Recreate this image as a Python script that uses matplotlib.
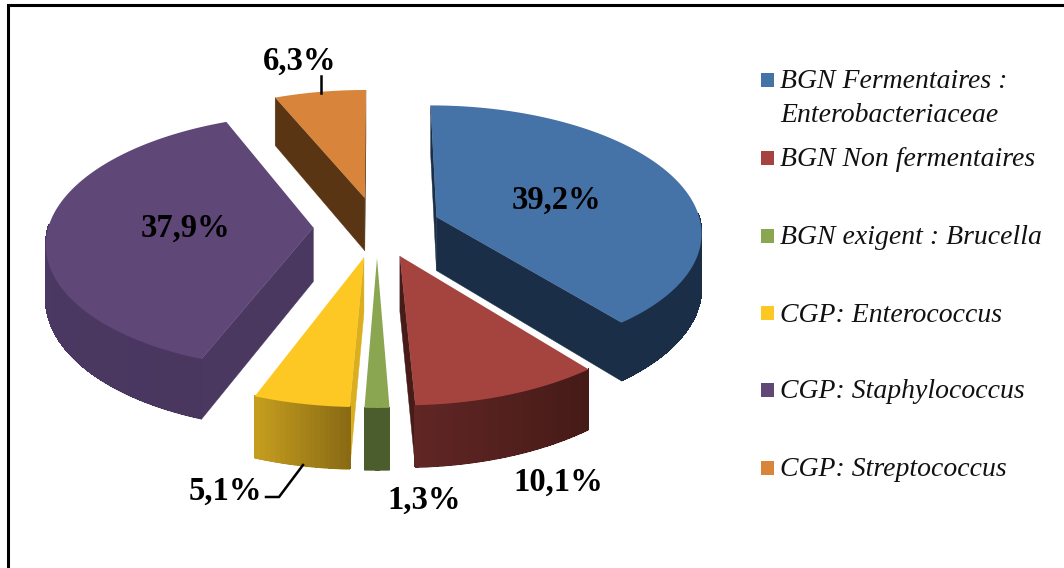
# -*- coding: utf-8 -*-
import numpy as np
import matplotlib.pyplot as plt
from matplotlib.colors import to_rgb

plt.rcParams["font.family"] = ["Liberation Serif", "DejaVu Serif"]

# values
categories = ["BGN Fermentaires :\nEnterobacteriaceae", "BGN Non fermentaires",
              "BGN exigent : Brucella", "CGP: Enterococcus",
              "CGP: Staphylococcus", "CGP: Streptococcus"]
values = [39.2, 10.1, 1.3, 5.1, 37.9, 6.3]
value_labels = ["39,2%", "10,1%", "1,3%", "5,1%", "37,9%", "6,3%"]

# colours: top, wall start, wall end, radial face
top_col = ["#4572A7", "#A5443F", "#8BA650", "#FDC823", "#5F4778", "#D9843B"]
wall_a = ["#1B2E47", "#451A17", "#4B5D2C", "#8A6B14", "#4A3760", "#5A3514"]
wall_b = ["#1B2E47", "#602624", "#4B5D2C", "#C8A01F", "#4E3B66", "#5A3514"]
face_col = ["#1B2E47", "#471B18", "#4B5D2C", "#DBAE1F", "#4A3860", "#5A3514"]

# projection of the tilted pie, in image pixels
CX, CY = 377, 227
RX, RY = 265, 126
K = 0.11
EXPLODE = 0.24
DEPTH = 54


def project(x, y, z=0.0):
    p = 1 / (1 + K * y)
    return CX + x * RX * p, CY - y * RY * p + z * DEPTH * p


def mix(c1, c2, t):
    return tuple(a + (b - a) * t for a, b in zip(to_rgb(c1), to_rgb(c2)))


def i_z(i):
    return [2, 3, 4, 4, 3, 1][i]


def draw_wedge(ax, t1, t2, i):
    """t1 > t2, degrees, going clockwise"""
    mid = np.radians((t1 + t2) / 2)
    ox, oy = EXPLODE * np.cos(mid), EXPLODE * np.sin(mid)
    th = np.radians(np.linspace(t1, t2, max(int(t1 - t2) + 2, 8)))
    xs, ys = ox + np.cos(th), oy + np.sin(th)
    z = i_z(i)

    # radial faces, only the ones turned to the viewer
    for k, sign in ((0, 1), (-1, -1)):
        x0, y0 = project(ox, oy)
        x1, y1 = project(xs[k], ys[k])
        x2, y2 = project(xs[k], ys[k], 1)
        x3, y3 = project(ox, oy, 1)
        area = (x1 - x0) * (y3 - y0) - (x3 - x0) * (y1 - y0)
        if area * sign < 0:
            ax.fill([x0, x1, x2, x3], [y0, y1, y2, y3], color=face_col[i], lw=0.3, zorder=z)

    # outer wall: smooth base shape, then the shading bands without antialiasing
    front = np.sin((th[:-1] + th[1:]) / 2) <= 0.02
    if front.any():
        idx = np.where(front)[0]
        ids = np.r_[idx, idx[-1] + 1]
        xt, yt = project(xs[ids], ys[ids])
        xb, yb = project(xs[ids], ys[ids], 1)
        ax.fill(np.r_[xt, xb[::-1]], np.r_[yt, yb[::-1]],
                color=mix(wall_a[i], wall_b[i], 0.5), lw=0.3, zorder=z)
        for j in idx:
            xa, ya = project(xs[j], ys[j])
            xc, yc = project(xs[j + 1], ys[j + 1])
            xe, ye = project(xs[j + 1], ys[j + 1], 0.985)
            xd, yd = project(xs[j], ys[j], 0.985)
            col = mix(wall_a[i], wall_b[i], j / (len(th) - 1))
            ax.fill([xa, xc, xe, xd], [ya, yc, ye, yd], color=col, lw=0.6,
                    antialiased=False, zorder=z)

    # top
    tx, ty = project(np.r_[ox, xs], np.r_[oy, ys])
    ax.fill(tx, ty, color=top_col[i], lw=0, zorder=z + 0.5)


fig = plt.figure(figsize=(10.64, 5.68), dpi=100)
ax = fig.add_axes([0, 0, 1, 1])
ax.set_xlim(0, 1064)
ax.set_ylim(568, 0)
ax.axis("off")

# frame: only top and left fall inside the picture
ax.plot([8, 8, 1064], [568, 5, 5], color="k", lw=2.2, solid_joinstyle="miter", zorder=0)

start = 90.0
for i, v in enumerate(values):
    sweep = v / sum(values) * 360
    draw_wedge(ax, start, start - sweep, i)
    start -= sweep

# value labels
label_x = [556, 558, 424, 225, 185, 300]
label_y = [200, 482, 500, 491, 228, 61]
for lab, x, y in zip(value_labels, label_x, label_y):
    ax.text(x, y, lab, ha="center", va="center", fontsize=23.5, fontweight="bold", zorder=10)

# leader lines
ax.plot([321, 321], [76, 93], color="k", lw=1.8, zorder=10)
ax.plot([266, 279, 303], [497, 497, 465], color="k", lw=1.8, zorder=10)

# legend
legend_y = [80, 158, 236, 313, 390, 468]
for lab, col, y in zip(categories, top_col, legend_y):
    ax.fill([761, 774, 774, 761], [y - 7, y - 7, y + 7, y + 7], color=col, lw=0)
    ax.text(780, y + 2, lab.split("\n")[0], ha="left", va="center", fontsize=20,
            fontstyle="italic", color="#111111")
    if "\n" in lab:
        ax.text(780, y + 35, lab.split("\n")[1], ha="left", va="center", fontsize=20,
                fontstyle="italic", color="#111111")

fig.savefig("out.png", dpi=100)
